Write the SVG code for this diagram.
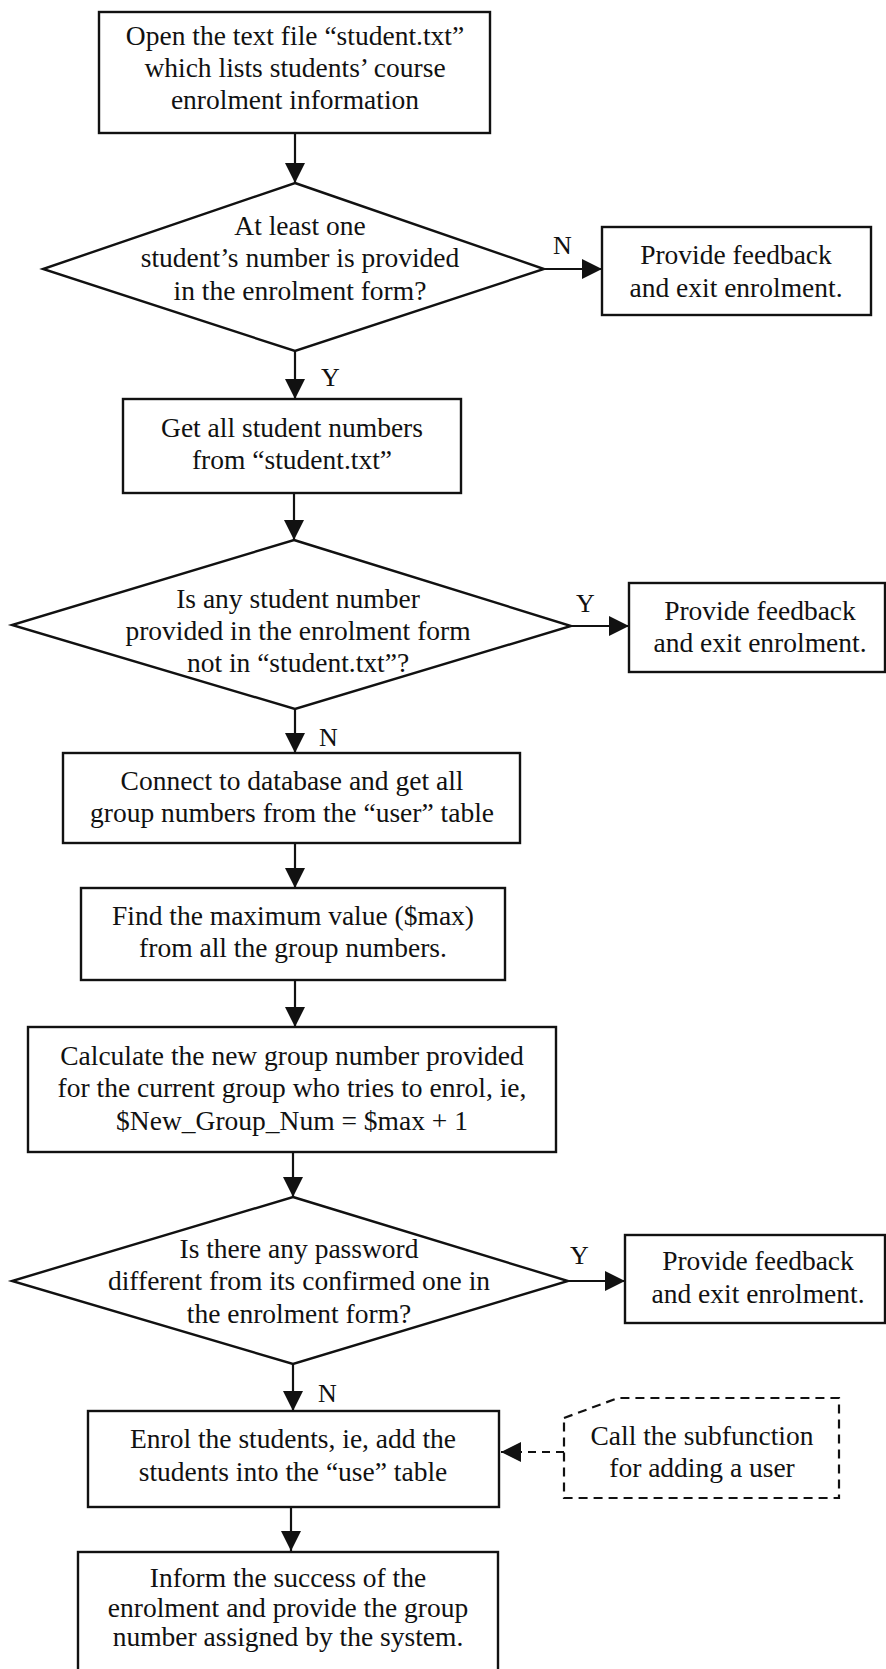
<svg xmlns="http://www.w3.org/2000/svg" width="886" height="1669" viewBox="0 0 886 1669">
  <style>
    .shape { fill: #ffffff; stroke: #111111; stroke-width: 2.4; }
    .note { fill: #ffffff; stroke: #111111; stroke-width: 2.2; stroke-dasharray: 9 6; }
    .link { fill: none; stroke: #111111; stroke-width: 2.2; }
    .dash { fill: none; stroke: #111111; stroke-width: 2.2; stroke-dasharray: 8 6; }
    text { font-family: "Liberation Serif", "Times New Roman", serif; font-size: 27.5px; fill: #111111; text-anchor: middle; }
    .lbl { font-size: 26px; text-anchor: start; }
  </style>
  <defs>
    <marker id="head" markerUnits="userSpaceOnUse" markerWidth="22" markerHeight="22" refX="20" refY="10" orient="auto">
      <path d="M0,0 L20,10 L0,20 Z" fill="#111111"/>
    </marker>
  </defs>

  <rect width="886" height="1669" fill="#ffffff"/>

  <!-- connectors -->
  <g id="connectors">
    <line class="link" x1="295" y1="133" x2="295" y2="183" marker-end="url(#head)"/>
    <line class="link" x1="544" y1="269" x2="602" y2="269" marker-end="url(#head)"/>
    <line class="link" x1="295" y1="351" x2="295" y2="399" marker-end="url(#head)"/>
    <line class="link" x1="294" y1="493" x2="294" y2="540" marker-end="url(#head)"/>
    <line class="link" x1="571" y1="626" x2="629" y2="626" marker-end="url(#head)"/>
    <line class="link" x1="295" y1="709" x2="295" y2="753" marker-end="url(#head)"/>
    <line class="link" x1="295" y1="843" x2="295" y2="888" marker-end="url(#head)"/>
    <line class="link" x1="295" y1="980" x2="295" y2="1027" marker-end="url(#head)"/>
    <line class="link" x1="293" y1="1152" x2="293" y2="1197" marker-end="url(#head)"/>
    <line class="link" x1="568" y1="1281" x2="625" y2="1281" marker-end="url(#head)"/>
    <line class="link" x1="293" y1="1364" x2="293" y2="1411" marker-end="url(#head)"/>
    <line class="dash" x1="564" y1="1452" x2="501" y2="1452" marker-end="url(#head)"/>
    <line class="link" x1="291" y1="1507" x2="291" y2="1551" marker-end="url(#head)"/>
    <text class="lbl" x="553" y="254">N</text>
    <text class="lbl" x="321" y="386">Y</text>
    <text class="lbl" x="576" y="612">Y</text>
    <text class="lbl" x="319" y="746">N</text>
    <text class="lbl" x="570" y="1264">Y</text>
    <text class="lbl" x="318" y="1402">N</text>
  </g>

  <g id="open-file">
    <rect class="shape" x="99" y="12" width="391" height="121"/>
    <text x="295" y="45">Open the text file “student.txt”</text>
    <text x="295" y="77">which lists students’ course</text>
    <text x="295" y="109">enrolment information</text>
  </g>

  <g id="check-number">
    <polygon class="shape" points="295,183 544,269 295,351 43,269"/>
    <text x="300" y="235">At least one</text>
    <text x="300" y="267">student’s number is provided</text>
    <text x="300" y="300">in the enrolment form?</text>
  </g>

  <g id="exit-1">
    <rect class="shape" x="602" y="227" width="269" height="88"/>
    <text x="736" y="264">Provide feedback</text>
    <text x="736" y="297">and exit enrolment.</text>
  </g>

  <g id="get-numbers">
    <rect class="shape" x="123" y="399" width="338" height="94"/>
    <text x="292" y="437">Get all student numbers</text>
    <text x="292" y="469">from “student.txt”</text>
  </g>

  <g id="check-list">
    <polygon class="shape" points="294,540 571,626 295,709 12,625"/>
    <text x="298" y="608">Is any student number</text>
    <text x="298" y="640">provided in the enrolment form</text>
    <text x="298" y="672">not in “student.txt”?</text>
  </g>

  <g id="exit-2">
    <rect class="shape" x="629" y="583" width="256" height="89"/>
    <text x="760" y="620">Provide feedback</text>
    <text x="760" y="652">and exit enrolment.</text>
  </g>

  <g id="connect-db">
    <rect class="shape" x="63" y="753" width="457" height="90"/>
    <text x="292" y="790">Connect to database and get all</text>
    <text x="292" y="822">group numbers from the “user” table</text>
  </g>

  <g id="find-max">
    <rect class="shape" x="81" y="888" width="424" height="92"/>
    <text x="293" y="925">Find the maximum value ($max)</text>
    <text x="293" y="957">from all the group numbers.</text>
  </g>

  <g id="new-group">
    <rect class="shape" x="28" y="1027" width="528" height="125"/>
    <text x="292" y="1065">Calculate the new group number provided</text>
    <text x="292" y="1097">for the current group who tries to enrol, ie,</text>
    <text x="292" y="1130">$New_Group_Num = $max + 1</text>
  </g>

  <g id="check-password">
    <polygon class="shape" points="293,1197 568,1281 293,1364 12,1281"/>
    <text x="299" y="1258">Is there any password</text>
    <text x="299" y="1290">different from its confirmed one in</text>
    <text x="299" y="1323">the enrolment form?</text>
  </g>

  <g id="exit-3">
    <rect class="shape" x="625" y="1235" width="260" height="88"/>
    <text x="758" y="1270">Provide feedback</text>
    <text x="758" y="1303">and exit enrolment.</text>
  </g>

  <g id="enrol">
    <rect class="shape" x="88" y="1411" width="411" height="96"/>
    <text x="293" y="1448">Enrol the students, ie, add the</text>
    <text x="293" y="1481">students into the “use” table</text>
  </g>

  <g id="subfunction">
    <polygon class="note" points="564,1418 618,1398 839,1398 839,1498 564,1498"/>
    <text x="702" y="1445">Call the subfunction</text>
    <text x="702" y="1477">for adding a user</text>
  </g>

  <g id="inform">
    <rect class="shape" x="78" y="1552" width="420" height="140"/>
    <text x="288" y="1587">Inform the success of the</text>
    <text x="288" y="1617">enrolment and provide the group</text>
    <text x="288" y="1646">number assigned by the system.</text>
  </g>
</svg>
